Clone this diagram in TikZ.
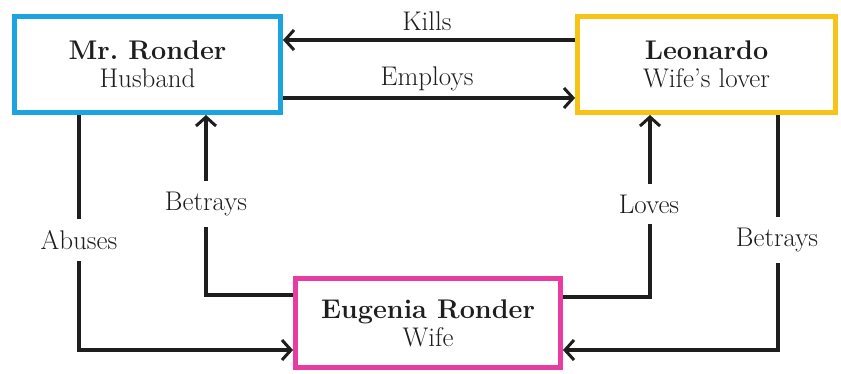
\documentclass[tikz,border=0pt]{standalone}
\usepackage{fontspec}
\setmainfont{Latin Modern Roman}
\usetikzlibrary{arrows.meta}
\definecolor{cblue}{RGB}{28,164,222}
\definecolor{cyellow}{RGB}{246,196,22}
\definecolor{cpink}{RGB}{232,60,160}
\definecolor{cink}{RGB}{30,30,30}
\tikzset{
  box/.style={draw, line width=5pt, inner sep=0pt, align=center, fill=white,
    font=\fontsize{27}{28}\selectfont, text=cink},
  arr/.style={draw=cink, line width=3.2pt, -{Straight Barb[length=9pt,width=20pt,line width=3pt]}},
  lab/.style={fill=white, inner xsep=3pt, inner ysep=11pt, font=\fontsize{27}{28}\selectfont, text=cink}
}
\begin{document}
\begin{tikzpicture}[x=1pt,y=-1pt]
\useasboundingbox (0,0) rectangle (841,373);
\node[box, draw=cblue, minimum width=266pt, minimum height=96pt] (M) at (147.5,64.5) {\textbf{Mr.\ Ronder}\\Husband};
\node[box, draw=cyellow, minimum width=258pt, minimum height=96pt] (L) at (706.5,64.5) {\textbf{Leonardo}\\Wife's lover};
\node[box, draw=cpink, minimum width=265pt, minimum height=89pt] (E) at (428,323) {\textbf{Eugenia Ronder}\\Wife};
\coordinate (k) at (0,40);
\coordinate (em) at (0,98);
\draw[arr] (L.west |- k) -- (M.east |- k);
\node[lab, fill=none] (tk) at (427,21) {Kills};
\draw[arr] (M.east |- em) -- (L.west |- em);
\node[lab, fill=none] (te) at (427,79) {Employs};
% Abuses
\coordinate (ab) at (79,350);
\draw[arr] (M.south -| ab) -- (ab) -- (E.west |- ab);
\node[lab] (ta) at (79,240) {Abuses};
% Betrays left
\coordinate (bl) at (206,295);
\draw[arr] (E.west |- bl) -- (bl) -- (M.south -| bl);
\node[lab] (tb) at (206,204) {Betrays};
% Loves
\coordinate (lv) at (650,297);
\draw[arr] (E.east |- lv) -- (lv) -- (L.south -| lv);
\node[lab] (tl) at (649,204) {Loves};
% Betrays right
\coordinate (br) at (778,350);
\draw[arr] (L.south -| br) -- (br) -- (E.east |- br);
\node[lab] (tr) at (777,240) {Betrays};
\end{tikzpicture}
\end{document}
